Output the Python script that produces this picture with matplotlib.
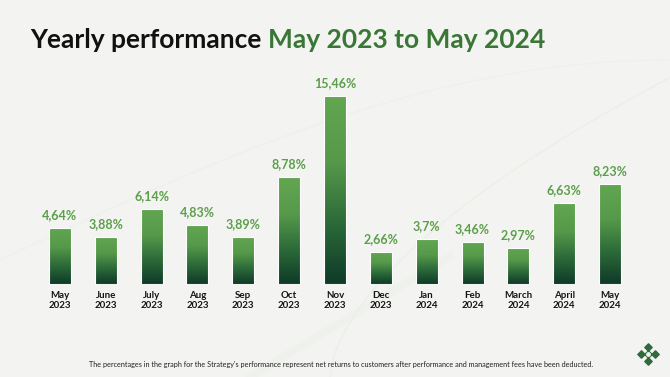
import matplotlib.pyplot as plt
import numpy as np
from matplotlib.colors import LinearSegmentedColormap
from matplotlib.patches import Rectangle

months = ['May', 'June', 'July', 'Aug', 'Sep', 'Oct', 'Nov', 'Dec', 'Jan',
          'Feb', 'March', 'April', 'May']
years = ['2023'] * 8 + ['2024'] * 5
values = [4.64, 3.88, 6.14, 4.83, 3.89, 8.78, 15.46, 2.66, 3.70, 3.46, 2.97,
          6.63, 8.23]
labels = ['4,64%', '3,88%', '6,14%', '4,83%', '3,89%', '8,78%', '15,46%',
          '2,66%', '3,7%', '3,46%', '2,97%', '6,63%', '8,23%']

BG = '#f3f4f1'
LABEL_GREEN = '#5c9e4c'
TITLE_GREEN = '#3a7636'
FONT = 'Lato'

cmap = LinearSegmentedColormap.from_list(
    'bar', [(0.0, '#0e3a28'), (0.35, '#2f6e3a'), (0.65, '#56994a'),
            (1.0, '#62a651')])

fig = plt.figure(figsize=(6.7, 3.77), dpi=100)
fig.patch.set_facecolor(BG)

# faint background curves
bg = fig.add_axes([0, 0, 1, 1])
bg.set_xlim(0, 670)
bg.set_ylim(377, 0)
bg.axis('off')
t = np.linspace(0, 1, 200)
bg.plot(330 + 400 * t, 377 - 330 * t ** 0.6, color='#e1ecdc', lw=1.0, alpha=0.5)
bg.plot(0 + 670 * t, 260 - 200 * np.sin(t * np.pi / 2), color='#e3ede0',
        lw=1.0, alpha=0.4)
bg.plot(250 + 200 * t, 377 - 120 * t, color='#e6efe3', lw=6, alpha=0.3)

# chart axes
ax = fig.add_axes([37 / 670, 93 / 377, 596 / 670, 224 / 377])
ax.set_xlim(-0.5, 12.5)
ax.set_ylim(0, 224 / 12.15)
ax.axis('off')
ax.patch.set_alpha(0)

w = 0.48
grad = np.linspace(0, 1, 256).reshape(-1, 1)
for i, (v, lab) in enumerate(zip(values, labels)):
    im = ax.imshow(grad, cmap=cmap, origin='lower', aspect='auto',
                   extent=(i - w / 2, i + w / 2, 0, v), zorder=2)
    rect = Rectangle((i - w / 2, 0), w, v, facecolor='none',
                     edgecolor='white', lw=0.8, zorder=3)
    ax.add_patch(rect)
    im.set_clip_path(rect)
    ax.annotate(lab, (i, v), xytext=(0, 5), textcoords='offset points',
                ha='center', va='bottom', fontsize=9, fontweight='bold',
                color=LABEL_GREEN, family=FONT)
    ax.annotate(f'{months[i]}\n{years[i]}', (i, 0), xytext=(0, -5),
                textcoords='offset points', ha='center', va='top',
                fontsize=7, fontweight='bold', color='#151515',
                family=FONT, linespacing=1.1)

# title in two colours
t1 = fig.text(30 / 670, 1 - 40 / 377, 'Yearly performance ', fontsize=19,
              fontweight='bold', color='#111111', family=FONT, va='center')
fig.canvas.draw()
bb = t1.get_window_extent()
fig.text(bb.x1 / fig.bbox.width, 1 - 40 / 377, 'May 2023 to May 2024',
         fontsize=19, fontweight='bold', color=TITLE_GREEN, family=FONT,
         va='center')

fig.text(341 / 670, 1 - 365 / 377,
         "The percentages in the graph for the Strategy's performance represent "
         "net returns to customers after performance and management fees have "
         "been deducted.", fontsize=5.2, color='#222222', family=FONT,
         ha='center', va='center')

# small logo mark
bg.scatter([648, 641, 655, 648, 648], [354, 354, 354, 347, 361], marker='D',
           s=14, color='#2f6a3a', zorder=5)
bg.scatter([648], [354], marker='o', s=6, color=BG, zorder=6)

fig.savefig('out.png', dpi=100, facecolor=BG)
